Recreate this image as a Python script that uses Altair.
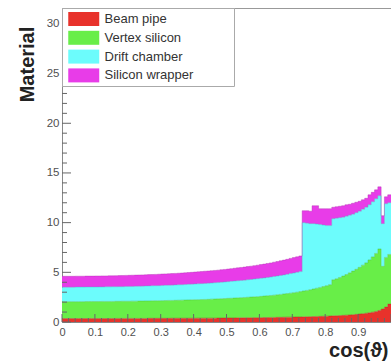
import altair as alt
import pandas as pd

# ---------------- data ----------------
names = ["Beam pipe", "Vertex silicon", "Drift chamber", "Silicon wrapper"]
colors = ["#e8322b", "#68ee48", "#6cfcfc", "#e83ce8"]
edge_colors = ["#b02020", "#48b830", "#40b8c0", "#b030b0"]

# bin lower edges of cos(theta), bins of width 0.01
bin_lo = [i / 100 for i in range(100)]
x_end = 1.0

# cumulative tops (stacked)
beam_pipe = [
    0.35, 0.35, 0.35, 0.35, 0.35, 0.35, 0.35, 0.35, 0.35, 0.35,
    0.35, 0.35, 0.35, 0.35, 0.35, 0.35, 0.36, 0.36, 0.36, 0.36,
    0.36, 0.36, 0.36, 0.36, 0.36, 0.36, 0.37, 0.37, 0.37, 0.37,
    0.37, 0.37, 0.37, 0.38, 0.38, 0.38, 0.38, 0.38, 0.38, 0.38,
    0.38, 0.39, 0.39, 0.39, 0.39, 0.39, 0.39, 0.40, 0.40, 0.40,
    0.41, 0.41, 0.41, 0.42, 0.42, 0.42, 0.43, 0.43, 0.44, 0.44,
    0.44, 0.45, 0.45, 0.46, 0.46, 0.47, 0.47, 0.48, 0.49, 0.49,
    0.50, 0.51, 0.51, 0.52, 0.53, 0.54, 0.55, 0.56, 0.57, 0.58,
    0.59, 0.60, 0.62, 0.63, 0.65, 0.67, 0.69, 0.71, 0.74, 0.77,
    0.80, 0.84, 0.88, 0.93, 0.99, 1.06, 1.16, 1.30, 1.50, 1.80,
]
vertex_silicon = [
    2.05, 2.05, 2.05, 2.05, 2.05, 2.05, 2.05, 2.06, 2.06, 2.06,
    2.06, 2.06, 2.07, 2.07, 2.07, 2.07, 2.08, 2.08, 2.09, 2.09,
    2.09, 2.10, 2.10, 2.11, 2.11, 2.12, 2.12, 2.13, 2.14, 2.14,
    2.15, 2.16, 2.17, 2.17, 2.18, 2.19, 2.20, 2.21, 2.22, 2.23,
    2.24, 2.25, 2.26, 2.27, 2.28, 2.30, 2.31, 2.33, 2.34, 2.36,
    2.38, 2.39, 2.41, 2.43, 2.45, 2.47, 2.49, 2.51, 2.53, 2.55,
    2.58, 2.61, 2.64, 2.67, 2.70, 2.74, 2.78, 2.82, 2.86, 2.90,
    2.95, 3.00, 3.06, 3.12, 3.18, 3.25, 3.32, 3.40, 3.48, 3.57,
    3.66, 3.76, 4.25, 4.35, 4.48, 4.62, 4.78, 4.95, 5.12, 5.30,
    5.50, 5.72, 5.95, 6.25, 6.55, 6.90, 7.35, 5.60, 6.50, 6.80,
]
drift_chamber = [
    3.50, 3.50, 3.50, 3.50, 3.51, 3.51, 3.51, 3.52, 3.52, 3.52,
    3.52, 3.53, 3.53, 3.54, 3.54, 3.55, 3.55, 3.56, 3.56, 3.57,
    3.58, 3.58, 3.59, 3.60, 3.61, 3.62, 3.63, 3.64, 3.65, 3.66,
    3.67, 3.69, 3.70, 3.71, 3.73, 3.74, 3.75, 3.77, 3.79, 3.81,
    3.83, 3.84, 3.86, 3.88, 3.90, 3.92, 3.95, 3.97, 4.00, 4.03,
    4.06, 4.09, 4.12, 4.15, 4.18, 4.21, 4.25, 4.28, 4.32, 4.36,
    4.40, 4.44, 4.48, 4.53, 4.58, 4.63, 4.69, 4.74, 4.80, 4.87,
    4.93, 5.00, 5.07, 10.00, 9.95, 9.90, 9.90, 9.85, 9.80, 9.75,
    9.70, 9.70, 10.40, 10.45, 10.50, 10.55, 10.65, 10.75, 10.85, 11.00,
    11.15, 11.35, 11.55, 11.80, 12.10, 12.40, 12.70, 9.90, 11.90, 12.00,
]
silicon_wrapper = [
    4.60, 4.60, 4.60, 4.60, 4.61, 4.61, 4.61, 4.62, 4.62, 4.62,
    4.63, 4.63, 4.64, 4.64, 4.65, 4.65, 4.66, 4.67, 4.68, 4.69,
    4.70, 4.71, 4.72, 4.73, 4.74, 4.75, 4.77, 4.78, 4.79, 4.81,
    4.83, 4.84, 4.86, 4.88, 4.89, 4.91, 4.93, 4.95, 4.98, 5.00,
    5.03, 5.05, 5.08, 5.11, 5.13, 5.16, 5.19, 5.22, 5.26, 5.29,
    5.33, 5.37, 5.41, 5.45, 5.49, 5.53, 5.58, 5.62, 5.67, 5.72,
    5.78, 5.83, 5.89, 5.95, 6.02, 6.08, 6.16, 6.23, 6.31, 6.40,
    6.48, 6.56, 6.65, 11.20, 11.20, 11.15, 11.70, 11.70, 11.40, 11.40,
    11.40, 11.40, 11.55, 11.60, 11.65, 11.70, 11.80, 11.85, 11.95, 12.05,
    12.15, 12.30, 12.45, 12.80, 13.05, 13.30, 13.60, 10.70, 12.60, 12.80,
]

y_labels = [0, 5, 10, 15, 20, 25, 30]
x_labels = [0, 0.1, 0.2, 0.3, 0.4, 0.5, 0.6, 0.7, 0.8, 0.9]
y_major = [0, 5, 10, 15, 20, 25, 30]
y_minor = [v for v in range(1, 32) if v % 5 != 0]
x_major = [i / 10 for i in range(11)]
x_minor = [i / 50 for i in range(1, 50) if i % 5 != 0]

# ---------------- table ----------------
rows = []
prev = [0.0] * len(bin_lo)
for k, (name, tops) in enumerate(zip(names, [beam_pipe, vertex_silicon, drift_chamber, silicon_wrapper])):
    for i, x in enumerate(bin_lo):
        rows.append({"series": name, "x": x, "lo": prev[i], "hi": tops[i], "k": k})
    rows.append({"series": name, "x": x_end, "lo": prev[-1], "hi": tops[-1], "k": k})
    prev = tops
df = pd.DataFrame(rows)

W, H = 329, 314
FONT = "Liberation Sans"
xscale = alt.Scale(domain=[0, 1], nice=False, zero=False)
yscale = alt.Scale(domain=[0, 31.6], nice=False)

xaxis = alt.Axis(
    values=x_labels, ticks=False, grid=False, domainColor="#888",
    labelExpr="datum.value == 0 ? '0' : format(datum.value, '.1f')",
    labelFont=FONT, labelFontSize=11, labelColor="#505050", labelPadding=4,
    labelFlush=False,
    title="cos(ϑ)", titleFont=FONT, titleFontSize=20, titleFontWeight="bold",
    titleColor="#222", titleX=326, titleY=34, titleAlign="right",
    titleBaseline="alphabetic")
yaxis = alt.Axis(
    values=y_labels, ticks=False, grid=False, domainColor="#888",
    labelFont=FONT, labelFontSize=11.5, labelColor="#505050", labelPadding=3,
    labelFlush=False,
    title="Material", titleFont=FONT, titleFontSize=20, titleFontWeight="bold",
    titleColor="#222", titleX=-35, titleY=56, titleAngle=270,
    titleAlign="center", titleBaseline="middle")

rect_path = "M-0.613,-0.903L3.387,-0.903L3.387,0.903L-0.613,0.903Z"

areas = alt.Chart(df).mark_area(interpolate="step-after", opacity=1).encode(
    x=alt.X("x:Q", scale=xscale, axis=xaxis),
    y=alt.Y("hi:Q", scale=yscale, stack=None, axis=yaxis),
    y2="lo:Q",
    color=alt.Color("series:N", scale=alt.Scale(domain=names, range=colors),
                    legend=alt.Legend(
                        orient="none", legendX=0, legendY=0, padding=3,
                        strokeColor="#aaa", fillColor="white",
                        symbolType=rect_path, symbolSize=240, symbolOpacity=1,
                        symbolStrokeWidth=0,
                        labelOffset=23.5, labelFont=FONT, labelFontSize=13,
                        labelColor="#333", rowPadding=3.8,
                        title="\u2800", titleOrient="right", titlePadding=28,
                        titleFontSize=13, titleColor="white")),
    order=alt.Order("k:Q"),
)

edges = alt.Chart(df).mark_line(interpolate="step-after", strokeWidth=0.8, opacity=0.5).encode(
    x=alt.X("x:Q", scale=xscale, axis=xaxis),
    y=alt.Y("hi:Q", scale=yscale, axis=yaxis),
    stroke=alt.Stroke("series:N", scale=alt.Scale(domain=names, range=edge_colors), legend=None),
)

tick_color = "#666"
ymaj = alt.Chart(pd.DataFrame({"v": y_major})).mark_rule(color=tick_color, strokeWidth=1).encode(
    y=alt.Y("v:Q", scale=yscale, axis=yaxis), x=alt.value(0), x2=alt.value(9))
ymin = alt.Chart(pd.DataFrame({"v": y_minor})).mark_rule(color=tick_color, strokeWidth=1).encode(
    y=alt.Y("v:Q", scale=yscale, axis=yaxis), x=alt.value(0), x2=alt.value(5))
xmaj = alt.Chart(pd.DataFrame({"v": x_major})).mark_rule(color=tick_color, strokeWidth=1).encode(
    x=alt.X("v:Q", scale=xscale, axis=xaxis), y=alt.value(H), y2=alt.value(H - 8))
xmin = alt.Chart(pd.DataFrame({"v": x_minor})).mark_rule(color=tick_color, strokeWidth=1).encode(
    x=alt.X("v:Q", scale=xscale, axis=xaxis), y=alt.value(H), y2=alt.value(H - 4))
top = alt.Chart(pd.DataFrame({"v": [0]})).mark_rule(color="#999", strokeWidth=1).encode(
    y=alt.value(0.5), x=alt.value(0), x2=alt.value(W))

chart = alt.layer(areas, edges, ymaj, ymin, xmaj, xmin, top).properties(
    width=W, height=H,
    autosize=alt.AutoSizeParams(type="none"),
    padding={"left": 62, "top": 8, "right": 0, "bottom": 41},
).configure_view(stroke=None).configure(background="white")

chart.save("out.html", embed_options={"renderer": "svg", "actions": False})
